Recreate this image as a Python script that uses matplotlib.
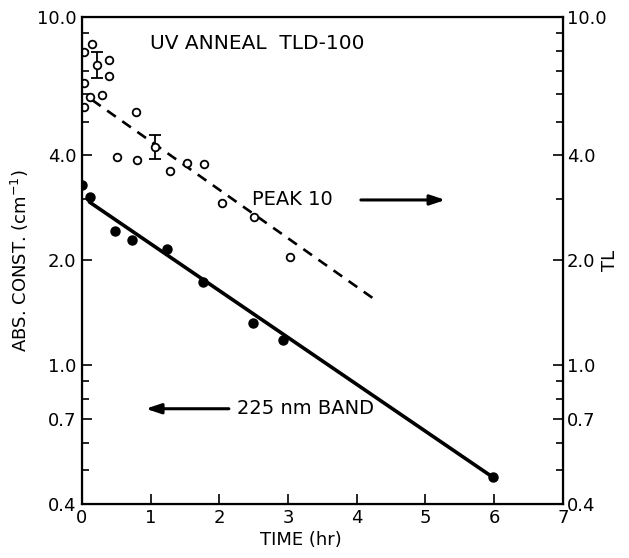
import numpy as np
import matplotlib
matplotlib.use("Agg")
import matplotlib.pyplot as plt
from matplotlib.ticker import FixedLocator, NullFormatter

# 225 nm band absorption (filled circles)
band_t = [0.0, 0.12, 0.48, 0.73, 1.24, 1.76, 2.49, 2.93, 5.98]
band_k = [3.29, 3.04, 2.43, 2.29, 2.15, 1.73, 1.32, 1.18, 0.477]
band_fit_t = [0.1, 5.98]
band_fit_k = [2.95, 0.477]

# peak 10 TL (open circles)
peak_t = [0.03, 0.15, 0.39, 0.39, 0.03, 0.12, 0.29, 0.03, 0.79, 0.51, 0.80,
          1.28, 1.53, 1.78, 2.04, 2.50, 3.03]
peak_tl = [7.93, 8.36, 7.52, 6.77, 6.46, 5.89, 5.97, 5.51, 5.33, 3.96, 3.88,
           3.60, 3.80, 3.79, 2.93, 2.66, 2.04]
err_t = [0.22, 1.06]
err_tl = [7.28, 4.23]
err_lo = [7.28 - 6.68, 4.23 - 3.91]
err_hi = [7.93 - 7.28, 4.58 - 4.23]
peak_fit_t = [0.15, 4.29]
peak_fit_tl = [5.77, 1.53]

yticks = [0.4, 0.7, 1.0, 2.0, 4.0, 10.0]
ylabels = ["0.4", "0.7", "1.0", "2.0", "4.0", "10.0"]
yminor = [0.5, 0.6, 0.8, 0.9, 3, 5, 6, 7, 8, 9]

plt.rcParams["font.family"] = "DejaVu Sans"

fig = plt.figure(figsize=(6.29, 5.58), dpi=100)
ax = fig.add_axes([0.130, 0.097, 0.765, 0.873])

ax.plot(band_fit_t, band_fit_k, color="black", lw=2.6, solid_capstyle="butt")
ax.plot(band_t, band_k, "o", color="black", ms=6.5)
ax.plot(peak_fit_t, peak_fit_tl, color="black", lw=1.9, ls=(0, (4, 3)))
ax.plot(peak_t, peak_tl, "o", mfc="white", mec="black", mew=1.3, ms=5.5)
ax.errorbar(err_t, err_tl, yerr=[err_lo, err_hi], fmt="o", mfc="white",
            mec="black", mew=1.3, ms=5.5, ecolor="black", elinewidth=1.3,
            capsize=4, capthick=1.3)

ax.set_yscale("log")
ax.set_xlim(0, 7)
ax.set_ylim(0.4, 10.0)
ax.set_xticks(range(8))
ax.set_xticklabels([str(i) for i in range(8)])
ax.yaxis.set_major_locator(FixedLocator(yticks))
ax.set_yticklabels(ylabels)
ax.yaxis.set_minor_locator(FixedLocator(yminor))
ax.yaxis.set_minor_formatter(NullFormatter())
ax.tick_params(direction="in", length=7, width=1.2, labelsize=13, pad=4)
ax.tick_params(which="minor", direction="in", length=5, width=1.2)
for s in ax.spines.values():
    s.set_linewidth(1.6)

ax2 = ax.twinx()
ax2.set_yscale("log")
ax2.set_ylim(0.4, 10.0)
ax2.yaxis.set_major_locator(FixedLocator(yticks))
ax2.set_yticklabels(ylabels)
ax2.yaxis.set_minor_locator(FixedLocator(yminor))
ax2.yaxis.set_minor_formatter(NullFormatter())
ax2.tick_params(direction="in", length=7, width=1.2, labelsize=13, pad=3)
ax2.tick_params(which="minor", direction="in", length=5, width=1.2)
ax2.set_ylabel("TL", fontsize=13, labelpad=-4)

ax.set_xlabel("TIME (hr)", fontsize=13, labelpad=2)
ax.xaxis.set_label_coords(0.455, -0.055)
ax.set_ylabel("ABS. CONST. (cm$^{-1}$)", fontsize=13, labelpad=4)

ax.text(0.99, 8.4, "UV ANNEAL  TLD-100", fontsize=14.5, va="center", ha="left")
ax.text(2.47, 2.98, "PEAK 10", fontsize=14, va="center", ha="left")
ax.annotate("", xy=(5.33, 2.98), xytext=(4.02, 2.98),
            arrowprops=dict(arrowstyle="-|>,head_length=0.9,head_width=0.3",
                            color="black", lw=2.2))
ax.text(2.26, 0.75, "225 nm BAND", fontsize=14, va="center", ha="left")
ax.annotate("", xy=(0.89, 0.75), xytext=(2.18, 0.75),
            arrowprops=dict(arrowstyle="-|>,head_length=0.9,head_width=0.3",
                            color="black", lw=2.2))

fig.savefig("out.png", dpi=100)
